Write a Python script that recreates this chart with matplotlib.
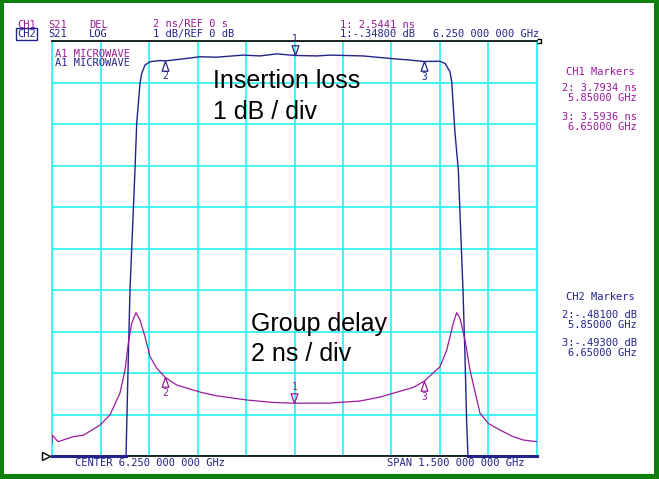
import matplotlib
matplotlib.use("Agg")
import matplotlib.pyplot as plt
from matplotlib.patches import Rectangle
import numpy as np

# CH2: S21 log magnitude (insertion loss), dB
loss_freq = [5.5, 5.7289, 5.7366, 5.7412, 5.7567, 5.7620, 5.7722, 5.7774, 5.7876,
             5.8031, 5.8340, 5.85, 5.9166, 5.9577, 6.0094, 6.0907, 6.1433, 6.1950,
             6.25, 6.3187, 6.3598, 6.4619, 6.5454, 6.6072, 6.65, 6.7000, 6.7155,
             6.7309, 6.7362, 6.7411, 6.7464, 6.7566, 6.7711, 6.7773, 6.7825, 6.7866, 7.0]
loss_db = [-10, -10, -7.45, -6.0, -3.1, -1.98, -1.02, -0.78, -0.58,
           -0.50, -0.47, -0.481, -0.42, -0.38, -0.39, -0.34, -0.36, -0.31,
           -0.348, -0.36, -0.34, -0.36, -0.42, -0.46, -0.493, -0.49, -0.54,
           -0.74, -0.98, -1.58, -2.22, -3.1, -6.0, -7.6, -9.2, -10, -10]

# CH1: S21 group delay, ns
delay_freq = [5.5, 5.5005, 5.5186, 5.5659, 5.5968, 5.6485, 5.6794, 5.7103, 5.7258,
              5.7360, 5.7465, 5.7598, 5.7722, 5.7876, 5.8031, 5.8238, 5.85, 5.8857,
              5.9577, 6.0094, 6.1022, 6.1835, 6.25, 6.3598, 6.4526, 6.5144, 6.5763,
              6.6165, 6.65, 6.7000, 6.7207, 6.7411, 6.7516, 6.7618, 6.7773, 6.7928,
              6.8237, 6.8494, 6.8856, 6.9268, 6.9577, 7.0]
delay_ns = [0.63, 1.01, 0.69, 0.93, 1.0, 1.49, 1.98, 3.04, 4.14,
            5.43, 6.4, 6.91, 6.55, 5.75, 4.79, 4.23, 3.79, 3.42,
            3.08, 2.90, 2.70, 2.58, 2.544, 2.55, 2.65, 2.84, 3.12,
            3.30, 3.59, 4.30, 5.1, 6.4, 6.91, 6.64, 5.59, 4.14,
            2.06, 1.57, 1.25, 0.93, 0.77, 0.69]

marker_freq = [6.25, 5.85, 6.65]
marker_db = [-0.348, -0.481, -0.493]
marker_ns = [2.5441, 3.7934, 3.5936]

CH1_COLOR = "#9a1a9a"
CH2_COLOR = "#23238c"
GRID_COLOR = "#33f3f3"
MONO = "DejaVu Sans Mono"

W, H = 659, 479
fig = plt.figure(figsize=(W / 100, H / 100), dpi=100, facecolor="#0c7f0c")
fig.patches.append(Rectangle((4 / W, 5 / H), 650 / W, 471 / H, transform=fig.transFigure,
                             facecolor="white", edgecolor="none", zorder=-5))

ax = fig.add_axes([52 / W, 1 - 456 / H, 485 / W, 415 / H])
ax.set_xlim(5.5, 7.0)
ax.set_ylim(-10, 0)
ax.set_xticks(np.linspace(5.5, 7.0, 11))
ax.set_yticks(np.linspace(-10, 0, 11))
ax.grid(True, color=GRID_COLOR, linewidth=1.3)
ax.tick_params(length=0, labelbottom=False, labelleft=False)
for side in ["left", "right"]:
    ax.spines[side].set_color(GRID_COLOR)
    ax.spines[side].set_linewidth(1.3)
for side in ["top", "bottom"]:
    ax.spines[side].set_color("black")
    ax.spines[side].set_linewidth(1.2)

ax2 = ax.twinx()
ax2.set_ylim(0, 20)
ax2.set_yticks([])
ax2.patch.set_visible(False)
for side in ax2.spines:
    ax2.spines[side].set_visible(False)

ax.plot(loss_freq, loss_db, color=CH2_COLOR, linewidth=1.0, clip_on=False, zorder=3)
# trace pinned at the bottom of the screen is drawn heavier
floor = np.ma.masked_where(np.array(loss_db) > -10, loss_db)
ax.plot(loss_freq, floor, color=CH2_COLOR, linewidth=2.2, clip_on=False, zorder=3)
ax2.plot(delay_freq, delay_ns, color=CH1_COLOR, linewidth=0.9, zorder=3)

# marker triangles: tip sits on the trace
down_tri = [(0, 0), (-0.35, 1), (0.35, 1), (0, 0)]
up_tri = [(0, 0), (-0.35, -1), (0.35, -1), (0, 0)]


def draw_markers(axis, values, color):
    for i, (f, v) in enumerate(zip(marker_freq, values)):
        shape, dy = (down_tri, 12) if i == 0 else (up_tri, -11)
        axis.plot([f], [v], marker=shape, markersize=14, markerfacecolor="none",
                  markeredgecolor=color, markeredgewidth=0.9, zorder=4)
        axis.annotate(str(i + 1), (f, v), xytext=(0, dy), textcoords="offset points",
                      ha="center", va="center", color=color, fontsize=7, family=MONO)


draw_markers(ax, marker_db, CH2_COLOR)
draw_markers(ax2, marker_ns, CH1_COLOR)

# reference position markers
ax.plot([5.5], [-10], marker=">", markersize=6, markerfacecolor="none",
        markeredgecolor="black", clip_on=False, zorder=5,
        transform=ax.transData + matplotlib.transforms.ScaledTranslation(-4 / 72, 0, fig.dpi_scale_trans))
ax.plot([7.0], [0], marker=[(0, 0.5), (1, 0.5), (1, -0.5), (0, -0.5)], markersize=6,
        markerfacecolor="none", markeredgecolor="black", clip_on=False, zorder=5)


def ftext(x, y, s, color, size=7.5, ha="left", family=MONO, **kw):
    fig.text(x / W, 1 - y / H, s, color=color, fontsize=size, ha=ha, va="center",
             family=family, **kw)


# header
ftext(17, 24.5, "CH1", CH1_COLOR)
ftext(48, 24.5, "S21", CH1_COLOR)
ftext(89, 24.5, "DEL", CH1_COLOR)
ftext(153, 24.5, "2 ns/REF 0 s", CH1_COLOR)
ftext(340, 24.5, "1: 2.5441 ns", CH1_COLOR)
ftext(17, 34, "CH2", CH2_COLOR,
      bbox=dict(boxstyle="square,pad=0.1", facecolor="none", edgecolor=CH2_COLOR, linewidth=1))
ftext(48, 34, "S21", CH2_COLOR)
ftext(89, 34, "LOG", CH2_COLOR)
ftext(153, 34, "1 dB/REF 0 dB", CH2_COLOR)
ftext(340, 34, "1:-.34800 dB", CH2_COLOR)
ftext(433, 34, "6.250 000 000 GHz", CH2_COLOR)
ftext(55, 54, "A1 MICROWAVE", CH1_COLOR)
ftext(55, 63, "A1 MICROWAVE", CH2_COLOR)

# marker tables on the right
ftext(566, 72, "CH1 Markers", CH1_COLOR)
ftext(637, 88, "2: 3.7934 ns", CH1_COLOR, ha="right")
ftext(637, 98, "5.85000 GHz", CH1_COLOR, ha="right")
ftext(637, 117, "3: 3.5936 ns", CH1_COLOR, ha="right")
ftext(637, 127, "6.65000 GHz", CH1_COLOR, ha="right")
ftext(566, 297, "CH2 Markers", CH2_COLOR)
ftext(637, 315, "2:-.48100 dB", CH2_COLOR, ha="right")
ftext(637, 325, "5.85000 GHz", CH2_COLOR, ha="right")
ftext(637, 343, "3:-.49300 dB", CH2_COLOR, ha="right")
ftext(637, 353, "6.65000 GHz", CH2_COLOR, ha="right")

# footer
ftext(75, 463, "CENTER 6.250 000 000 GHz", CH2_COLOR)
ftext(387, 463, "SPAN 1.500 000 000 GHz", CH2_COLOR)

# annotations
big = dict(size=18, family="Liberation Sans")
ftext(213, 81, "Insertion loss", "black", **big)
ftext(213, 112, "1 dB / div", "black", **big)
ftext(251, 324, "Group delay", "black", **big)
ftext(251, 354, "2 ns / div", "black", **big)

fig.savefig("out.png", dpi=100, facecolor=fig.get_facecolor())
